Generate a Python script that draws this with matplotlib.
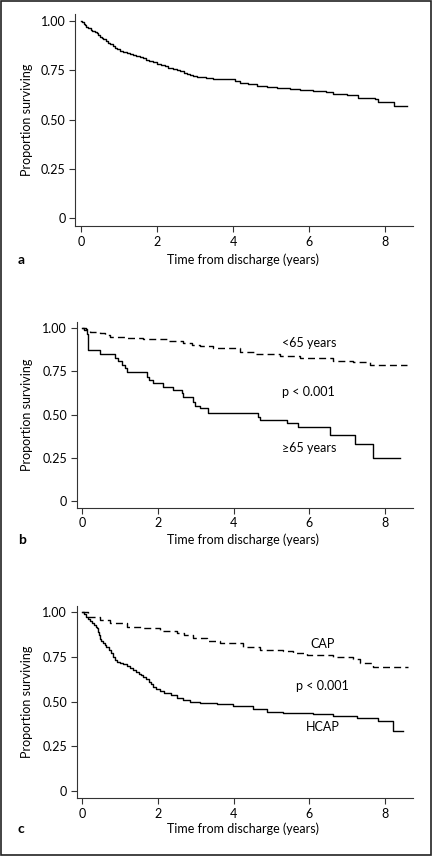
import matplotlib
matplotlib.use("Agg")
import matplotlib.pyplot as plt
from matplotlib.patches import Rectangle

plt.rcParams['font.family'] = ['Lato', 'DejaVu Sans']
plt.rcParams['font.size'] = 9

# Kaplan-Meier step data (time in years, proportion surviving)
# panel a: all patients
t_all = [0, 0.03, 0.07, 0.1, 0.14, 0.19, 0.25, 0.3, 0.36, 0.41, 0.46, 0.5, 0.55, 0.59, 0.65,
         0.7, 0.77, 0.85, 0.9, 0.95, 1.03, 1.1, 1.2, 1.3, 1.38, 1.45, 1.55, 1.64, 1.72, 1.8,
         1.9, 1.99, 2.1, 2.2, 2.3, 2.43, 2.52, 2.6, 2.7, 2.78, 2.88, 2.95, 3.05, 3.13, 3.3,
         3.48, 4.05, 4.18, 4.4, 4.62, 4.9, 5.15, 5.5, 5.76, 6.1, 6.46, 6.64, 7.0, 7.3, 7.75,
         7.82, 8.24, 8.59]
s_all = [1.0, 0.993, 0.985, 0.978, 0.97, 0.962, 0.955, 0.948, 0.942, 0.936, 0.928, 0.92,
         0.912, 0.906, 0.897, 0.889, 0.88, 0.871, 0.864, 0.858, 0.849, 0.843, 0.837, 0.831,
         0.826, 0.822, 0.816, 0.81, 0.803, 0.797, 0.79, 0.782, 0.775, 0.769, 0.763, 0.756,
         0.749, 0.743, 0.736, 0.731, 0.725, 0.72, 0.716, 0.713, 0.708, 0.703, 0.696, 0.686,
         0.678, 0.669, 0.664, 0.659, 0.653, 0.649, 0.645, 0.641, 0.629, 0.624, 0.607, 0.604,
         0.587, 0.568, 0.568]

# panel b: by age
t_old = [0, 0.1, 0.13, 0.16, 0.48, 0.86, 0.95, 1.04, 1.13, 1.17, 1.7, 1.75, 1.88, 2.14,
         2.41, 2.63, 2.67, 2.93, 2.97, 3.11, 3.33, 4.65, 4.7, 5.4, 5.71, 6.55, 7.2, 7.69, 8.4]
s_old = [1.0, 0.994, 0.97, 0.874, 0.85, 0.83, 0.81, 0.787, 0.768, 0.748, 0.72, 0.70,
         0.681, 0.661, 0.642, 0.623, 0.60, 0.574, 0.549, 0.536, 0.511, 0.487, 0.468,
         0.449, 0.429, 0.381, 0.327, 0.246, 0.246]
t_young = [0, 0.05, 0.2, 0.47, 0.6, 0.73, 1.17, 1.61, 2.23, 2.67, 2.9, 3.11, 3.46, 3.99,
           4.17, 4.6, 5.22, 5.75, 6.28, 6.63, 7.16, 7.6, 8.57]
s_young = [1.0, 0.99, 0.98, 0.971, 0.96, 0.952, 0.946, 0.936, 0.928, 0.913, 0.905, 0.897,
           0.888, 0.884, 0.865, 0.851, 0.841, 0.83, 0.826, 0.812, 0.807, 0.787, 0.787]

# panel c: by pneumonia type
t_cap = [0, 0.16, 0.47, 0.73, 1.17, 1.61, 2.05, 2.49, 2.7, 2.93, 3.29, 3.64, 4.08, 4.26,
         4.7, 5.31, 5.57, 5.93, 6.63, 7.16, 7.33, 7.64, 7.69, 8.6]
s_cap = [1.0, 0.972, 0.957, 0.938, 0.92, 0.91, 0.896, 0.882, 0.87, 0.858, 0.841, 0.83,
         0.826, 0.808, 0.789, 0.785, 0.771, 0.761, 0.748, 0.739, 0.718, 0.714, 0.696, 0.696]
t_hcap = [0, 0.05, 0.1, 0.15, 0.2, 0.25, 0.3, 0.35, 0.38, 0.41, 0.44, 0.47, 0.5, 0.55, 0.6,
          0.64, 0.7, 0.75, 0.8, 0.86, 0.93, 1.0, 1.08, 1.17, 1.25, 1.35, 1.43, 1.5, 1.56,
          1.61, 1.68, 1.75, 1.82, 1.88, 1.95, 2.05, 2.15, 2.23, 2.35, 2.49, 2.65, 2.85,
          3.11, 3.55, 3.99, 4.52, 4.87, 5.31, 6.1, 6.63, 7.25, 7.82, 8.22, 8.48]
s_hcap = [1.0, 0.988, 0.975, 0.962, 0.95, 0.94, 0.93, 0.918, 0.91, 0.89, 0.87, 0.85, 0.838,
          0.826, 0.815, 0.804, 0.787, 0.77, 0.752, 0.735, 0.724, 0.715, 0.708, 0.70, 0.69,
          0.677, 0.668, 0.656, 0.648, 0.64, 0.625, 0.61, 0.597, 0.584, 0.572, 0.558, 0.55,
          0.546, 0.535, 0.52, 0.51, 0.5, 0.49, 0.485, 0.476, 0.457, 0.444, 0.435, 0.429,
          0.42, 0.41, 0.394, 0.338, 0.338]

yticks = [0, 0.25, 0.5, 0.75, 1.0]
yticklabels = ["0", "0.25", "0.50", "0.75", "1.00"]
xticks = [0, 2, 4, 6, 8]

W, H = 432, 856
fig = plt.figure(figsize=(W / 100, H / 100), dpi=100)


def px_axes(left, top, right, bottom):
    return fig.add_axes([left / W, 1 - bottom / H, (right - left) / W, (bottom - top) / H])


def style(ax, letter, label_y):
    ax.set_xlim(-0.15, 8.75)
    ax.set_ylim(-0.04, 1.035)
    ax.set_xticks(xticks)
    ax.set_yticks(yticks)
    ax.set_yticklabels(yticklabels)
    for side in ("top", "right"):
        ax.spines[side].set_visible(False)
    for side in ("left", "bottom"):
        ax.spines[side].set_linewidth(0.8)
        ax.spines[side].set_color("#333333")
    ax.tick_params(length=4, width=0.8, color="#333333", pad=3, labelsize=9)
    box = ax.get_position()
    fig.text(27 / W, (box.y0 + box.y1) / 2, "Proportion surviving", rotation=90,
             ha="center", va="center", fontsize=9)
    fig.text(243 / W, 1 - label_y / H, "Time from discharge (years)",
             ha="center", va="center", fontsize=9)
    fig.text(18 / W, 1 - label_y / H, letter, ha="left", va="center",
             fontsize=10, fontweight="bold")


ax_a = px_axes(75.3, 13.8, 413.5, 226.2)
ax_a.step(t_all, s_all, where="post", color="black", lw=1)
style(ax_a, "a", 260)

ax_b = px_axes(76.6, 322.3, 413.4, 507.6)
ax_b.step(t_young, s_young, where="post", color="black", lw=1, ls=(0, (5, 3)))
ax_b.step(t_old, s_old, where="post", color="black", lw=1)
ax_b.text(6.0, 0.917, "<65 years", ha="center", va="center", fontsize=9)
ax_b.text(5.97, 0.632, "p < 0.001", ha="center", va="center", fontsize=9)
ax_b.text(6.0, 0.308, "\u226565 years", ha="center", va="center", fontsize=9)
style(ax_b, "b", 540)

ax_c = px_axes(76.6, 606.0, 413.4, 798.1)
ax_c.step(t_cap, s_cap, where="post", color="black", lw=1, ls=(0, (5, 3)))
ax_c.step(t_hcap, s_hcap, where="post", color="black", lw=1)
ax_c.text(6.35, 0.823, "CAP", ha="center", va="center", fontsize=9)
ax_c.text(6.35, 0.588, "p < 0.001", ha="center", va="center", fontsize=9)
ax_c.text(6.35, 0.36, "HCAP", ha="center", va="center", fontsize=9)
style(ax_c, "c", 829)

# outer frame
fig.patches.append(Rectangle((1 / W, 1.5 / H), 429.5 / W, 853.5 / H, transform=fig.transFigure,
                             fill=False, edgecolor="#222222", lw=1.2))

fig.savefig("out.png", dpi=100)
